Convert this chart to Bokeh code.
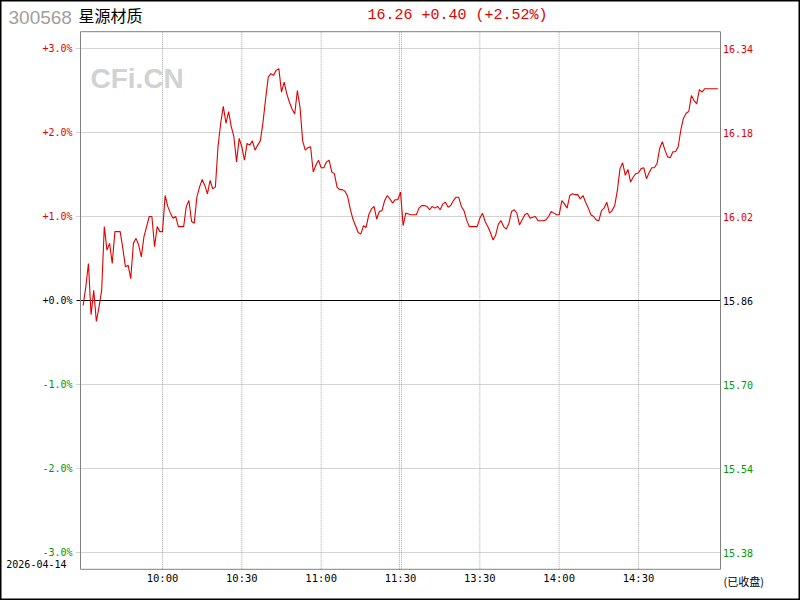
from bokeh.plotting import figure
from bokeh.models import Range1d, Grid
from bokeh.core.properties import value
from bokeh.embed import file_html
from bokeh.resources import INLINE

# ---------------- data ----------------
stock_code = "300568"
stock_name = "星源材质"
trade_date = "2026-04-14"
prev_close = 15.86
last_price = 16.26

# percent change vs previous close, one value per trading minute (09:30 .. 15:00)
pct_change = [
    -0.06, 0.16, 0.44, -0.17, 0.12, -0.25, -0.08, 0.12, 0.88, 0.60,
    0.68, 0.44, 0.82, 0.82, 0.82, 0.62, 0.40, 0.42, 0.26, 0.68,
    0.74, 0.66, 0.52, 0.76, 0.88, 1.00, 1.00, 0.64, 0.88, 0.82,
    0.82, 1.25, 1.12, 1.04, 0.98, 1.00, 0.88, 0.88, 0.88, 1.12,
    1.19, 0.94, 0.92, 1.23, 1.35, 1.44, 1.37, 1.27, 1.43, 1.33,
    1.35, 1.83, 2.11, 2.31, 2.11, 2.25, 2.07, 1.95, 1.65, 1.93,
    1.83, 1.67, 1.87, 1.85, 1.90, 1.79, 1.85, 1.90, 2.12, 2.40,
    2.66, 2.70, 2.68, 2.74, 2.76, 2.48, 2.60, 2.46, 2.36, 2.28,
    2.22, 2.50, 2.30, 1.90, 1.79, 1.82, 1.83, 1.53, 1.61, 1.67,
    1.58, 1.58, 1.65, 1.67, 1.53, 1.51, 1.35, 1.32, 1.32, 1.30,
    1.24, 1.09, 0.97, 0.89, 0.81, 0.79, 0.89, 0.87, 1.02, 1.09,
    1.12, 0.97, 1.06, 1.07, 1.19, 1.25, 1.21, 1.16, 1.20, 1.20,
    1.29, 0.89, 1.04, 1.03, 1.02, 1.02, 1.02, 1.10, 1.13, 1.13,
    1.12, 1.08, 1.12, 1.10, 1.12, 1.08, 1.15, 1.17, 1.11, 1.13,
    1.19, 1.23, 1.23, 1.12, 1.07, 0.96, 0.88, 0.88, 0.88, 0.88,
    0.98, 1.04, 0.94, 0.88, 0.81, 0.72, 0.78, 0.91, 0.95, 0.88,
    0.85, 0.92, 1.06, 1.08, 1.04, 0.90, 0.96, 1.02, 1.04, 0.98,
    0.99, 1.00, 0.95, 0.95, 0.95, 0.96, 1.00, 1.06, 1.04, 1.02,
    1.02, 1.19, 1.15, 1.10, 1.25, 1.27, 1.26, 1.26, 1.21, 1.25,
    1.17, 1.10, 1.02, 1.00, 0.96, 0.95, 1.07, 1.10, 1.17, 1.04,
    1.07, 1.13, 1.31, 1.57, 1.64, 1.49, 1.56, 1.41, 1.47, 1.51,
    1.52, 1.57, 1.58, 1.45, 1.52, 1.58, 1.58, 1.63, 1.81, 1.89,
    1.79, 1.71, 1.70, 1.77, 1.77, 1.83, 2.03, 2.17, 2.23, 2.25,
    2.44, 2.38, 2.34, 2.51, 2.48, 2.52, 2.52, 2.52, 2.52, 2.52,
    2.52,
]
minutes = list(range(len(pct_change)))

pct_ticks = [3, 2, 1, 0, -1, -2, -3]
time_tick_minutes = [30, 60, 90, 120, 150, 180, 210]
time_tick_labels = ["10:00", "10:30", "11:00", "11:30", "13:30", "14:00", "14:30"]
status_text = "(已收盘)"

# ---------------- layout / style ----------------
RED = "#e00000"
GREEN = "#009600"
BLACK = "#000000"
GRID = "#a8a8a8"
MONO = "DejaVu Sans Mono"

W, H = 800, 600
X_LO, X_HI = -1, 241          # plot-area x extent (minutes)
Y_LIM = 3.2                   # plot-area y extent (percent)
PX_X = 640 / (X_HI - X_LO)    # pixels per minute
PX_Y = 84.0                   # pixels per percent
xc = (X_LO + X_HI) / 2
x_range = Range1d(xc - (W / 2) / PX_X, xc + (W / 2) / PX_X)
y_range = Range1d(-(H / 2) / PX_Y, (H / 2) / PX_Y)

p = figure(width=W, height=H, x_range=x_range, y_range=y_range,
           x_axis_location=None, y_axis_location=None,
           toolbar_location=None, output_backend="svg",
           min_border=0)
p.center = [r for r in p.center if not isinstance(r, Grid)]
p.outline_line_color = BLACK
p.outline_line_width = 2
p.background_fill_color = "white"
p.border_fill_color = "white"

# grid lines (dotted)
gx = [m for m in time_tick_minutes if m != 120] + [119.6, 120.4]
p.segment(x0=gx, y0=[-Y_LIM] * len(gx), x1=gx, y1=[Y_LIM] * len(gx),
          line_color=GRID, line_dash="1 1", line_width=1)
gy = [t for t in pct_ticks if t != 0]
p.segment(x0=[X_LO - 4 / PX_X] * len(gy), y0=gy, x1=[X_HI] * len(gy), y1=gy,
          line_color=GRID, line_dash="1 1", line_width=1)
# zero line
p.segment(x0=[X_LO - 4 / PX_X], y0=[0], x1=[X_HI], y1=[0], line_color=BLACK, line_width=1)

# plot-area border
p.quad(left=[X_LO], right=[X_HI], bottom=[-Y_LIM], top=[Y_LIM],
       fill_color=None, line_color="#808080", line_width=1)

# watermark
p.text(x=[X_LO], y=[Y_LIM], text=["CFi.CN"], x_offset=10, y_offset=47,
       text_font=value("Liberation Sans"), text_font_style="bold",
       text_font_size="28px", text_color="#d2d2d2",
       text_baseline="alphabetic", text_align="left")

# price line
p.line(minutes, pct_change, line_color=RED, line_width=1.1)

def color_for(v):
    return RED if v > 0 else (GREEN if v < 0 else BLACK)

left_labels = [("+" if t >= 0 else "-") + f"{abs(t):.1f}%" for t in pct_ticks]
right_labels = [f"{prev_close * (1 + t / 100.0):.2f}" for t in pct_ticks]
tick_colors = [color_for(t) for t in pct_ticks]

p.text(x=[X_LO] * len(pct_ticks), y=pct_ticks, text=left_labels, x_offset=-8,
       text_font=value(MONO), text_font_size="10px", text_color=tick_colors,
       text_align="right", text_baseline="middle")
p.text(x=[X_HI] * len(pct_ticks), y=pct_ticks, text=right_labels, x_offset=2.5,
       text_font=value(MONO), text_font_size="10px", text_color=tick_colors,
       text_align="left", text_baseline="middle")

# time labels
p.text(x=time_tick_minutes, y=[-Y_LIM] * len(time_tick_minutes), text=time_tick_labels,
       y_offset=8.5, text_font=value(MONO), text_font_size="10.5px", text_color=BLACK,
       text_align="center", text_baseline="middle")
p.text(x=[X_HI], y=[-Y_LIM], text=[status_text], x_offset=3, y_offset=12,
       text_font=value("Noto Sans CJK SC"), text_font_size="11px", text_color=BLACK,
       text_align="left", text_baseline="middle")
p.text(x=[X_LO], y=[-Y_LIM], text=[trade_date], x_offset=-14, y_offset=-5.7,
       text_font=value(MONO), text_font_size="10px", text_color=BLACK,
       text_align="right", text_baseline="middle")

# header
chg = last_price - prev_close
chg_pct = chg / prev_close * 100
header = f"{last_price:.2f} {chg:+.2f} ({chg_pct:+.2f}%)"
p.text(x=[X_LO], y=[Y_LIM], text=[stock_code], x_offset=-72, y_offset=-14.5,
       text_font=value("Liberation Sans"), text_font_size="19px", text_color="#a0a0a0",
       text_align="left", text_baseline="middle")
p.text(x=[X_LO], y=[Y_LIM], text=[stock_name], x_offset=-2, y_offset=-17,
       text_font=value("Noto Sans CJK SC"), text_font_size="16px", text_color=BLACK,
       text_align="left", text_baseline="middle")
p.text(x=[X_LO], y=[Y_LIM], text=[header], x_offset=287, y_offset=-16.7,
       text_font=value("Liberation Mono"), text_font_size="15px", text_color=RED,
       text_align="left", text_baseline="middle")

open("out.html", "w").write(file_html(p, INLINE))
